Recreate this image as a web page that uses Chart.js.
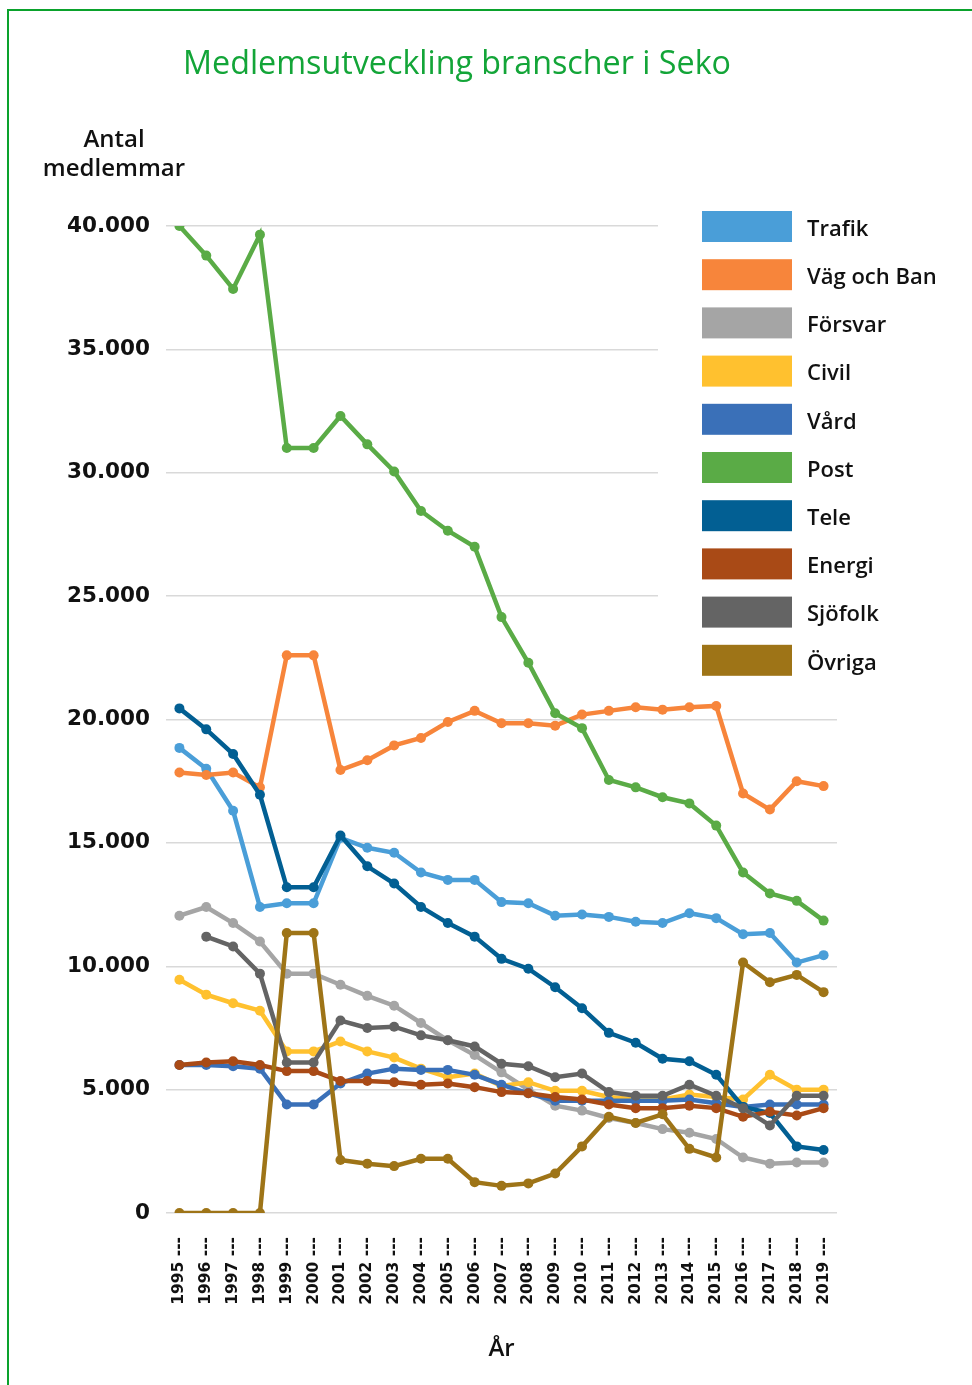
<!DOCTYPE html>
<html><head><meta charset="utf-8">
<script src="https://cdn.jsdelivr.net/npm/chart.js@4.4.1/dist/chart.umd.min.js"></script>
<style>
html,body{margin:0;padding:0;background:#fff;width:972px;height:1385px;overflow:hidden}
#frame{position:absolute;left:7px;top:9px;width:990px;height:1400px;border-left:2px solid #0aa22c;border-top:2px solid #0aa22c;}
#wrap{position:absolute;left:0;top:0;width:972px;height:1385px}
</style></head><body>
<div id="frame"></div>
<div id="wrap"><canvas id="c" width="972" height="1385"></canvas></div>
<script>
const chartTitle = 'Medlemsutveckling branscher i Seko';
const yCaption = ['Antal', 'medlemmar'];
const xTitle = 'År';
const years = ['1995','1996','1997','1998','1999','2000','2001','2002','2003','2004','2005','2006','2007','2008','2009','2010','2011','2012','2013','2014','2015','2016','2017','2018','2019'];
const yTickValues = [0, 5000, 10000, 15000, 20000, 25000, 30000, 35000, 40000];
const yTickLabels = ['0', '5.000', '10.000', '15.000', '20.000', '25.000', '30.000', '35.000', '40.000'];
const seriesNames = ['Trafik', 'Väg och Ban', 'Försvar', 'Civil', 'Vård', 'Post', 'Tele', 'Energi', 'Sjöfolk', 'Övriga'];
const seriesColors = ['#4a9ed8', '#f7853b', '#a5a5a5', '#ffc12f', '#3a70b8', '#5aab46', '#025f93', '#a94a16', '#646464', '#9e7417'];
const trafik  = [18850, 18000, 16300, 12400, 12550, 12550, 15200, 14800, 14600, 13800, 13500, 13500, 12600, 12550, 12050, 12100, 12000, 11800, 11750, 12150, 11950, 11300, 11350, 10150, 10450];
const vagBan  = [17850, 17750, 17850, 17250, 22600, 22600, 17950, 18350, 18950, 19250, 19900, 20350, 19850, 19850, 19750, 20200, 20350, 20500, 20400, 20500, 20550, 17000, 16350, 17500, 17300];
const forsvar = [12050, 12400, 11750, 11000, 9700, 9700, 9250, 8800, 8400, 7700, 7000, 6400, 5700, 5000, 4350, 4150, 3850, 3650, 3400, 3250, 3000, 2250, 2000, 2050, 2050];
const civil   = [9450, 8850, 8500, 8200, 6550, 6550, 6950, 6550, 6300, 5850, 5500, 5650, 5150, 5300, 4950, 4950, 4700, 4600, 4600, 4800, 4700, 4600, 5600, 5000, 5000];
const vard    = [6000, 6000, 5950, 5850, 4400, 4400, 5250, 5650, 5850, 5800, 5800, 5600, 5200, 4850, 4550, 4550, 4550, 4550, 4550, 4600, 4450, 4300, 4400, 4400, 4400];
const post    = [40000, 38800, 37450, 39650, 31000, 31000, 32300, 31150, 30050, 28450, 27650, 27000, 24150, 22300, 20250, 19650, 17550, 17250, 16850, 16600, 15700, 13800, 12950, 12650, 11850];
const tele    = [20450, 19600, 18600, 16950, 13200, 13200, 15300, 14050, 13350, 12400, 11750, 11200, 10300, 9900, 9150, 8300, 7300, 6900, 6250, 6150, 5600, 4300, 4050, 2700, 2550];
const energi  = [6000, 6100, 6150, 6000, 5750, 5750, 5350, 5350, 5300, 5200, 5250, 5100, 4900, 4850, 4700, 4600, 4400, 4250, 4250, 4350, 4250, 3900, 4100, 3950, 4250];
const sjofolk = [null, 11200, 10800, 9700, 6100, 6100, 7800, 7500, 7550, 7200, 7000, 6750, 6050, 5950, 5500, 5650, 4900, 4750, 4750, 5200, 4750, 4250, 3550, 4750, 4750];
const ovriga  = [0, 0, 0, 0, 11350, 11350, 2150, 2000, 1900, 2200, 2200, 1250, 1100, 1200, 1600, 2700, 3900, 3650, 4000, 2600, 2250, 10150, 9350, 9650, 8950];
const seriesData = [trafik, vagBan, forsvar, civil, vard, post, tele, energi, sjofolk, ovriga];

const datasets = seriesNames.map((name, i) => ({
  label: name,
  data: seriesData[i],
  borderColor: seriesColors[i],
  backgroundColor: seriesColors[i],
  pointBackgroundColor: seriesColors[i],
  borderWidth: 4.5,
  pointRadius: 5,
  pointBorderWidth: 0,
  tension: 0,
  spanGaps: false,
  order: seriesNames.length - i
}));

const maskPlugin = {
  id: 'mask',
  beforeDatasetsDraw(chart) {
    const ctx = chart.ctx;
    ctx.save();
    ctx.fillStyle = '#ffffff';
    ctx.fillRect(658, 205, 185, 495);
    ctx.restore();
  }
};

const decorPlugin = {
  id: 'decor',
  afterDraw(chart) {
    const ctx = chart.ctx;
    ctx.save();
    ctx.fillStyle = '#13a538';
    ctx.font = '400 33px "Open Sans"';
    ctx.textBaseline = 'alphabetic';
    ctx.textAlign = 'left';
    const w = ctx.measureText(chartTitle).width;
    ctx.translate(183, 73.5);
    ctx.scale(548 / w, 1);
    ctx.fillText(chartTitle, 0, 0);
    ctx.restore();

    ctx.save();
    ctx.fillStyle = '#111111';
    ctx.font = '600 24px "Open Sans"';
    ctx.textAlign = 'center';
    ctx.textBaseline = 'alphabetic';
    ctx.fillText(yCaption[0], 114, 147);
    ctx.fillText(yCaption[1], 114, 176);

    const lx = 702, ly = 211, lw = 90, lh = 31, step = 48.2;
    ctx.font = '600 22px "Open Sans"';
    ctx.textAlign = 'left';
    ctx.textBaseline = 'middle';
    chart.data.datasets.forEach((ds, i) => {
      const y = ly + i * step;
      ctx.fillStyle = ds.borderColor;
      ctx.fillRect(lx, y, lw, lh);
      ctx.fillStyle = '#111111';
      ctx.fillText(ds.label, 807, y + lh / 2 + 3);
    });
    ctx.restore();
  }
};

new Chart(document.getElementById('c'), {
  type: 'line',
  data: { labels: years, datasets },
  options: {
    responsive: false,
    animation: false,
    devicePixelRatio: 1,
    layout: { padding: { top: 226, right: 135, bottom: 4, left: 0 } },
    plugins: { legend: { display: false }, tooltip: { enabled: false }, title: { display: false } },
    scales: {
      x: {
        type: 'category',
        offset: true,
        grid: { display: false, drawTicks: false },
        border: { display: false },
        ticks: {
          autoSkip: false,
          maxRotation: 90,
          minRotation: 90,
          padding: 24,
          color: '#111111',
          font: { family: 'DejaVu Sans', weight: 'bold', size: 15.5 },
          callback: function(v, i) { return years[i] + ' ---'; }
        },
        title: {
          display: true,
          text: xTitle,
          color: '#111111',
          font: { family: 'Open Sans', weight: '600', size: 24 },
          padding: { top: 0, bottom: 17 }
        },
        afterFit(scale) { scale.height = 168; }
      },
      y: {
        min: 0,
        max: 40000,
        grid: { color: '#d9d9d9', lineWidth: 1.5, drawTicks: false },
        border: { display: false },
        ticks: {
          stepSize: 5000,
          padding: 16,
          color: '#111111',
          font: { family: 'DejaVu Sans', weight: 'bold', size: 21.5 },
          callback: function(v) { const k = yTickValues.indexOf(v); return k >= 0 ? yTickLabels[k] : ''; }
        },
        afterFit(scale) { scale.width = 166; }
      }
    }
  },
  plugins: [maskPlugin, decorPlugin]
});
</script>
</body></html>
